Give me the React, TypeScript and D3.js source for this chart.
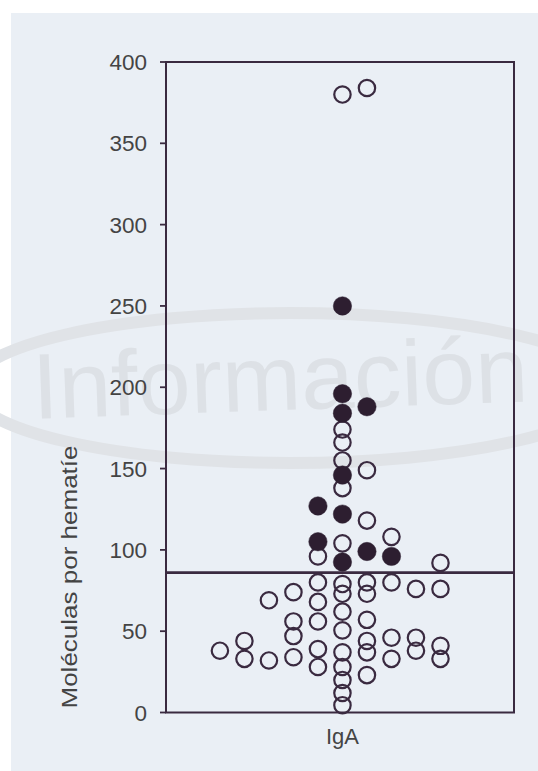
import React from "react";
import * as d3 from "d3";

// Column offset (0 = centre) and value for each open circle
const openCols: number[] = [
  -5,
  -4, -4,
  -3, -3,
  -2, -2, -2, -2,
  -1, -1, -1, -1, -1, -1,
  0, 0, 0, 0, 0, 0, 0, 0, 0, 0, 0, 0, 0, 0, 0,
  1, 1, 1, 1, 1, 1, 1, 1, 1,
  2, 2, 2, 2,
  3, 3, 3,
  4, 4, 4, 4,
];
const openValues: number[] = [
  38,
  44, 33,
  69, 32,
  74, 56, 47, 34,
  96, 80, 68, 56, 39, 28,
  380, 174, 166, 155, 138, 104, 79, 73, 62, 50.5, 37, 28, 20, 12, 4.5,
  384, 149, 118, 80, 73, 57, 44, 37, 23,
  108, 80, 46, 33,
  76, 46, 38,
  92, 76, 41, 33,
];
const filledCols: number[] = [-1, -1, 0, 0, 0, 0, 0, 0, 1, 1, 2];
const filledValues: number[] = [127, 105, 250, 196, 184, 146, 122, 92.5, 188, 99, 96];

const yTicks: number[] = [0, 50, 100, 150, 200, 250, 300, 350, 400];
const cutoff = 86;
const yLabel = "Moléculas por hematíe";
const xLabel = "IgA";
const watermark = "Información";

const W = 538;
const H = 771;
const left = 166;
const right = 514;
const top = 62;
const bottom = 712.5;

export default function App() {
  const y = d3.scaleLinear().domain([0, 400]).range([bottom, top]);
  const x = d3.scaleLinear().domain([-7.2, 7.0]).range([left, right]);
  const ink = "#3a2a40";
  const textCol = "#444444";
  const r = 8.2;
  const font = "'Liberation Sans', Arial, sans-serif";

  return (
    <svg
      width={W}
      height={H}
      style={{ position: "absolute", left: 0, top: 0 }}
      xmlns="http://www.w3.org/2000/svg"
    >
      <rect x={0} y={0} width={W} height={H} fill="#ffffff" />
      <rect x={11} y={13} width={W - 11} height={H - 13} fill="#eaeff5" />
      {/* faint watermark */}
      <ellipse cx={290} cy={388} rx={320} ry={75} fill="none" stroke="#e0e3e7" strokeWidth={12} />
      <text
        x={32}
        y={410}
        fontFamily={font}
        fontSize={93}
        fill="#dde1e6"
        textLength={496}
        lengthAdjust="spacingAndGlyphs"
        transform="rotate(-2 280 380)"
      >
        {watermark}
      </text>

      {/* frame */}
      <rect
        x={left}
        y={top}
        width={right - left}
        height={bottom - top}
        fill="none"
        stroke={ink}
        strokeWidth={2}
      />

      {/* y ticks */}
      {yTicks.map((t) => (
        <g key={t}>
          <line x1={left - 6} x2={left} y1={y(t)} y2={y(t)} stroke={ink} strokeWidth={1.8} />
          <text
            x={left - 19}
            y={y(t)}
            dy="0.36em"
            textAnchor="end"
            fontFamily={font}
            fontSize={22.5}
            fill={textCol}
          >
            {t}
          </text>
        </g>
      ))}

      {/* cutoff line */}
      <line x1={left} x2={right} y1={y(cutoff)} y2={y(cutoff)} stroke={ink} strokeWidth={2.6} />

      {/* open circles */}
      {openValues.map((v, i) => (
        <circle
          key={"o" + i}
          cx={x(openCols[i])}
          cy={y(v)}
          r={r}
          fill="none"
          stroke={ink}
          strokeWidth={2.2}
        />
      ))}
      {/* filled circles */}
      {filledValues.map((v, i) => (
        <circle
          key={"f" + i}
          cx={x(filledCols[i])}
          cy={y(v)}
          r={r + 1}
          fill="#2d1e30"
          stroke="#2d1e30"
          strokeWidth={0.5}
        />
      ))}

      {/* labels */}
      <text
        x={x(0)}
        y={744}
        textAnchor="middle"
        fontFamily={font}
        fontSize={22}
        fill={textCol}
      >
        {xLabel}
      </text>
      <text
        transform={`translate(77, 577) rotate(-90)`}
        textAnchor="middle"
        fontFamily={font}
        fontSize={21.5}
        textLength={263}
        lengthAdjust="spacingAndGlyphs"
        fill={textCol}
      >
        {yLabel}
      </text>
    </svg>
  );
}
